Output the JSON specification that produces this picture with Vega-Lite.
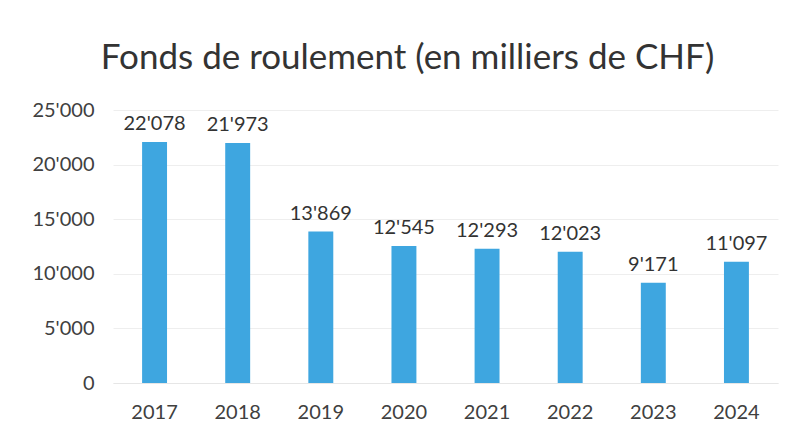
{
  "$schema": "https://vega.github.io/schema/vega-lite/v6.json",
  "width": 665,
  "height": 273,
  "autosize": {"type": "none"},
  "padding": {"left": 113, "top": 110, "right": 15, "bottom": 55},
  "background": "white",
  "config": {
    "locale": {"number": {"decimal": ".", "thousands": "'", "grouping": [3], "currency": ["", ""]}},
    "view": {"stroke": null},
    "font": "Lato"
  },
  "title": {
    "text": "Fonds de roulement (en milliers de CHF)",
    "fontSize": 35,
    "font": "Lato",
    "fontWeight": "normal",
    "color": "#333333",
    "anchor": "middle",
    "offset": 24,
    "dx": -38
  },
  "data": {
    "values": [
      {"year": "2017", "value": 22078},
      {"year": "2018", "value": 21973},
      {"year": "2019", "value": 13869},
      {"year": "2020", "value": 12545},
      {"year": "2021", "value": 12293},
      {"year": "2022", "value": 12023},
      {"year": "2023", "value": 9171},
      {"year": "2024", "value": 11097}
    ]
  },
  "encoding": {
    "x": {
      "field": "year", "type": "nominal", "title": null,
      "scale": {"paddingInner": 0.7, "paddingOuter": 0.35},
      "axis": {"labelAngle": 0, "labelFontSize": 20, "labelColor": "#404040", "ticks": false, "domainColor": "#e6e6e6", "labelPadding": 19, "labelFont": "Lato"}
    },
    "y": {
      "field": "value", "type": "quantitative", "title": null,
      "scale": {"domain": [0, 25000]},
      "axis": {"values": [0, 5000, 10000, 15000, 20000, 25000], "labelExpr": "format(datum.value, ',')", "labelFontSize": 20, "labelColor": "#404040", "ticks": false, "domain": false, "gridColor": "#eeeeee", "labelPadding": 19, "labelFont": "Lato"}
    }
  },
  "layer": [
    {"mark": {"type": "bar", "color": "#3ea6e0"}},
    {
      "mark": {"type": "text", "baseline": "bottom", "dy": -8, "fontSize": 20, "color": "#333333", "font": "Lato"},
      "encoding": {"text": {"field": "value", "type": "quantitative", "format": ","}}
    }
  ]
}
